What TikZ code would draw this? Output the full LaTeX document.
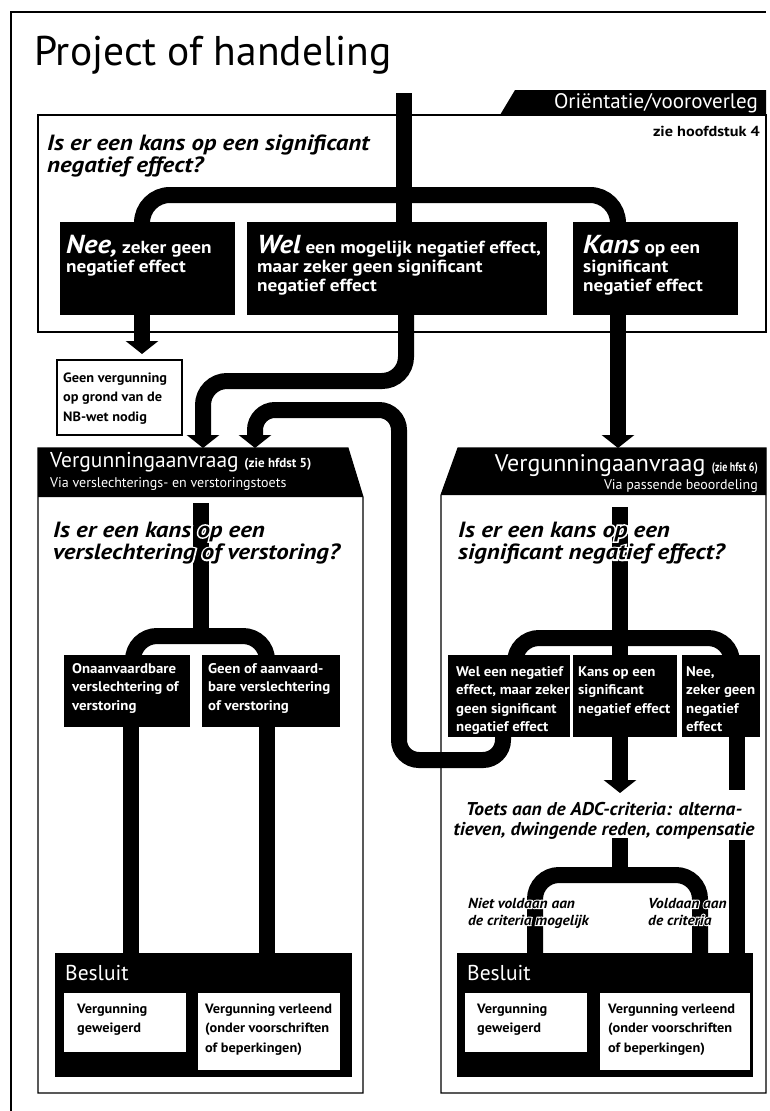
\documentclass[tikz,border=0pt]{standalone}
\usepackage{fontspec}
\setmainfont{PT Sans}
\usetikzlibrary{arrows.meta}
\newcommand\mytl[1]{\begin{tabular}[t]{@{}l@{}}#1\end{tabular}}
\newcommand\mytc[1]{\begin{tabular}[t]{@{}c@{}}#1\end{tabular}}
\newcommand\bigit[1]{{\fontsize{26}{19}\selectfont\itshape #1}}
\newcommand\halo[1]{\leavevmode\rlap{\addfontfeatures{FakeBold=14}\color{white}#1}#1}
\newcommand\fs[3]{\fontsize{#1}{#2}\selectfont\addfontfeatures{FakeStretch=#3}}
\begin{document}
\begin{tikzpicture}[x=1pt,y=-1pt,
  blk/.style={fill=black, draw=none, inner sep=0pt, outer sep=0pt, anchor=north west},
  wbox/.style={draw=black, line width=1.1pt, fill=white, inner sep=0pt, outer sep=0pt, anchor=north west},
  thinline/.style={draw=black, line width=1.1pt},
  pipe/.style={line width=16pt, rounded corners=24pt},
  arr/.style={pipe, -{Triangle[width=32pt,length=13pt]}},
  wt/.style={text=white, anchor=base west, inner sep=0pt, font=\bfseries\fs{17.5}{19}{1.1}},
  wts/.style={wt, font=\bfseries\fs{14}{18.5}{1.06}},
  bt/.style={anchor=base west, inner sep=0pt, font=\bfseries\fs{13.5}{19.5}{1.06}},
  q/.style={anchor=base west, inner sep=0pt, font=\bfseries\itshape\fs{22}{22.5}{1.13}},
  lbl/.style={anchor=base west, inner sep=0pt, font=\bfseries\itshape\fs{14.5}{17}{1.06}},
  hdr/.style={text=white, inner sep=0pt, font=\fontsize{21.5}{20}\selectfont},
  hdrs/.style={text=white, inner sep=0pt, font=\fontsize{14}{14}\selectfont},
]
\useasboundingbox (0,0) rectangle (769,1111);
\fill[white] (0,0) rectangle (769,1111);

% outer frame
\draw[thinline] (11,1111) -- (11,12) -- (766,12);

% title
\node[anchor=base west, inner sep=0pt, font=\fontsize{41.5}{44}\selectfont] (title) at (34,65) {Project of handeling};

% ===== Orientation section =====
\node[wbox, minimum width=728pt, minimum height=217pt] (orient) at (38,115) {};
\fill (500,115) -- (515,90) -- (766,90) -- (766,115) -- cycle;
\node[hdr, anchor=base east, font=\fontsize{21}{21}\selectfont] (tab) at (758,108) {Oriëntatie/vooroverleg};
\node[anchor=base east, inner sep=0pt, font=\bfseries\fs{14.5}{14}{1.12}] (hfd4) at (760,136) {zie hoofdstuk 4};
\node[q] (q1) at (47,150) {\mytl{Is er een kans op een significant\\negatief effect?}};

\node[blk, minimum width=175pt, minimum height=93pt] (nee) at (60,222) {};
\node[blk, minimum width=300pt, minimum height=93pt] (wel) at (247,222) {};
\node[blk, minimum width=165pt, minimum height=93pt] (kans) at (573,222) {};
\node[wbox, minimum width=125pt, minimum height=75pt] (geen) at (57,360) {};

% ===== Left permit section =====
\draw[thinline, fill=white] (38,448) -- (348,448) -- (363,497) -- (363,1093) -- (38,1093) -- cycle;
\fill (38,448) -- (348,448) -- (363,497) -- (38,497) -- cycle;
\node[blk, minimum width=126pt, minimum height=72pt] (onaanv) at (64,655) {};
\node[blk, minimum width=138pt, minimum height=72pt] (aanv) at (202,655) {};
\node[blk, minimum width=297pt, minimum height=124pt] (besL) at (55,953) {};
\node[wbox, draw=none, minimum width=122pt, minimum height=59pt] (weigL) at (64,993) {};
\node[wbox, draw=none, minimum width=142pt, minimum height=77pt] (verlL) at (198,993) {};

% ===== Right permit section =====
\draw[thinline, fill=white] (458,448) -- (766,448) -- (766,1093) -- (441,1093) -- (441,495) -- cycle;
\fill (458,448) -- (766,448) -- (766,495) -- (441,495) -- cycle;
\node[blk, minimum width=122pt, minimum height=82pt] (rA) at (448,655) {};
\node[blk, minimum width=104pt, minimum height=82pt] (rB) at (573,655) {};
\node[blk, minimum width=78pt, minimum height=82pt] (rC) at (682,655) {};
\node[blk, minimum width=296pt, minimum height=124pt] (besR) at (457,953) {};
\node[wbox, draw=none, minimum width=122pt, minimum height=59pt] (weigR) at (465,993) {};
\node[wbox, draw=none, minimum width=150pt, minimum height=77pt] (verlR) at (600,993) {};

% ===== connectors =====
\coordinate (start) at (404,93);
\draw[pipe] (start) -- (start |- wel.north);
\draw[pipe, rounded corners=28pt] ([xshift=82pt]nee.north west) -- ++(0,-27) -| ([xshift=45pt]kans.north west);
\draw[arr] ([xshift=82pt]nee.south west) -- ([xshift=85pt,yshift=6pt]geen.north west);
\draw[arr] ([xshift=159pt]wel.south west) -- ++(0,66) -| (203,448);
\draw[arr] ([xshift=45pt]kans.south west) -- (618,448);
\draw[arr, rounded corners=20pt] ([xshift=55pt]rA.south west) -- ++(0,23) -| (399,410) -| (255,448);

% left section
\coordinate (ltop) at (201,503);
\draw[pipe] (ltop) -- (201,636);
\draw[pipe] ([xshift=69pt]onaanv.north west) -- ++(0,-19) -| ([xshift=65pt]aanv.north west);
\draw[pipe] ([xshift=67pt]onaanv.south west) -- ([xshift=76pt]besL.north west);
\draw[pipe] ([xshift=65pt]aanv.south west) -- ([xshift=212pt]besL.north west);

% right section
\coordinate (rtop) at (620,507);
\draw[pipe] (rtop) -- (rtop |- rB.north);
\draw[pipe] ([xshift=67pt]rA.north west) -- ++(0,-17) -| ([xshift=50pt]rC.north west);
\draw[arr] ([xshift=47pt]rB.south west) -- (620,793);
\coordinate (cgap1) at (737,790);
\coordinate (cgap2) at (737,840);
\draw[pipe] ([xshift=55pt]rC.south west) -- (cgap1);
\draw[pipe] (cgap2) -- ([xshift=280pt]besR.north west);
\coordinate (adcb) at (620,838);
\draw[pipe] (adcb) -- (620,875);
\draw[pipe] ([xshift=78pt]besR.north west) -- ++(0,-78) -| ([xshift=243pt]besR.north west);

% ===== texts =====
\node[wt] (tnee) at (66,253) {\mytl{\bigit{Nee,} zeker geen\\negatief effect}};
\node[wt] (twel) at (257,253) {\mytl{\bigit{Wel} een mogelijk negatief effect,\\maar zeker geen significant\\negatief effect}};
\node[wt] (tkans) at (583,253) {\mytl{\bigit{Kans} op een\\significant\\negatief effect}};
\node[bt] (tgeen) at (63,382) {\mytl{Geen vergunning\\op grond van de\\NB-wet nodig}};

\node[hdr, anchor=base west] (hL) at (50,467) {Vergunningaanvraag {\bfseries\fontsize{13}{13}\selectfont (zie hfdst 5)}};
\node[hdrs, anchor=base west] (hL2) at (50,487) {Via verslechterings- en verstoringstoets};
\node[q] (q2) at (53,537) {\mytl{\halo{Is er een kans op een}\\\halo{verslechtering of verstoring?}}};
\node[wts] (tonaanv) at (72,673) {\mytl{Onaanvaardbare\\verslechtering of\\verstoring}};
\node[wts] (taanv) at (208,673) {\mytl{Geen of aanvaard-\\bare verslechtering\\of verstoring}};
\node[hdr, anchor=base west] (bL) at (65,980) {Besluit};
\node[bt] (twL) at (77,1013) {\mytl{Vergunning\\geweigerd}};
\node[bt] (tvL) at (205,1013) {\mytl{Vergunning verleend\\(onder voorschriften\\of beperkingen)}};

\node[hdr, anchor=base east, font=\fontsize{24}{25}\selectfont] (hR) at (758,471) {Vergunningaanvraag {\bfseries\fs{12.5}{12}{0.8}(zie hfst 6)}};
\node[hdrs, anchor=base east] (hR2) at (758,489) {Via passende beoordeling};
\node[q] (q3) at (458,537) {\mytl{\halo{Is er een kans op een}\\\halo{significant negatief effect?}}};
\node[wts] (tA) at (456,676) {\mytl{Wel een negatief\\effect, maar zeker\\geen significant\\negatief effect}};
\node[wts] (tB) at (578,676) {\mytl{Kans op een\\significant\\negatief effect}};
\node[wts] (tC) at (686,676) {\mytl{Nee,\\zeker geen\\negatief\\effect}};
\node[anchor=base, inner sep=0pt, font=\bfseries\itshape\fs{18.5}{20}{1.05}] (adc) at (604,815) {\mytc{Toets aan de ADC-criteria: alterna-\\tieven, dwingende reden, compensatie}};
\node[lbl] (niet) at (468,908) {\mytl{\halo{Niet voldaan aan}\\\halo{de criteria mogelijk}}};
\node[lbl] (vold) at (648,908) {\mytl{\halo{Voldaan aan}\\\halo{de criteria}}};
\node[hdr, anchor=base west] (bR) at (467,980) {Besluit};
\node[bt] (twR) at (477,1013) {\mytl{Vergunning\\geweigerd}};
\node[bt] (tvR) at (608,1013) {\mytl{Vergunning verleend\\(onder voorschriften\\of beperkingen)}};
\end{tikzpicture}
\end{document}
